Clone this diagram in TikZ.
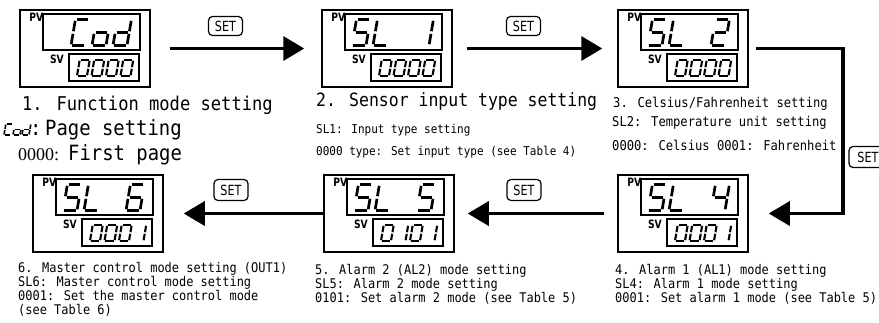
\documentclass[tikz,border=0pt]{standalone}
\usepackage{fontspec}
\newfontfamily\capfont[FakeStretch=0.9]{DejaVu Sans Mono}
\newfontfamily\labfont[FakeStretch=0.8]{DejaVu Sans}
\newfontfamily\serfont{Liberation Serif}
\usetikzlibrary{arrows.meta}
\newcommand\defdig[2]{\expandafter\def\csname dig#1\endcsname{#2}}
\defdig{0}{a,b,c,d,e,f}
\defdig{1}{b,c}
\defdig{2}{a,b,g,e,d}
\defdig{4}{f,g,b,c}
\defdig{5}{a,f,g,c,d}
\defdig{6}{a,f,g,e,d,c}
\defdig{S}{a,f,g,c,d}
\defdig{L}{f,e,d}
\defdig{C}{a,f,e,d}
\defdig{o}{g,c,d,e}
\defdig{d}{b,c,d,e,g}
\defdig{n}{n}
\newcommand\spt[2]{({\sgX+(#1)*\sgW+0.17*(#2)*\sgH},{\sgY-(#2)*\sgH})}
\def\sega{\spt{0.1}{1} -- \spt{0.92}{1}}
\def\segb{\spt{1}{0.95} -- \spt{1}{0.55}}
\def\segc{\spt{1}{0.45} -- \spt{1}{0.05}}
\def\segd{\spt{0.08}{0} -- \spt{0.9}{0}}
\def\sege{\spt{0}{0.45} -- \spt{0}{0.05}}
\def\segf{\spt{0}{0.95} -- \spt{0}{0.55}}
\def\segg{\spt{0.1}{0.5} -- \spt{0.9}{0.5}}
\def\segn{\spt{0}{0}}
\def\sgLW{2pt}
\newcommand\sdig[5]{%
  \def\sgX{#1}\def\sgY{#2}\def\sgW{#3}\def\sgH{#4}%
  \foreach \sgl in #5 {\expandafter\let\expandafter\cursg\csname seg\sgl\endcsname \draw[segline] \cursg;}%
}
\newcommand\display[5]{%
  \node[outerbox] (#1) at ({#2+65},{#3+38.5}) {};
  \node[innerbox, minimum width=97pt, minimum height=36pt] (#1pv) at ({#2+71.5},{#3+22}) {};
  \node[innerbox, minimum width=70pt, minimum height=27pt] (#1sv) at ({#2+84},{#3+57.5}) {};
  \node[pvlab, anchor=north east] (#1pvl) at ({#2+23.5},{#3+3}) {PV};
  \node[pvlab, anchor=north east] (#1svl) at ({#2+44},{#3+45}) {SV};
  \def\sgLW{2.7pt}%
  \foreach \dg [count=\i from 0] in {#4} {%
    \pgfmathsetmacro\cx{#2+30+21*\i}%
    \edef\curdig{\csname dig\dg\endcsname}%
    \sdig{\cx}{#3+35.5}{14}{26}{\curdig}}%
  \def\sgLW{2.1pt}%
  \foreach \dg [count=\i from 0] in {#5} {%
    \pgfmathsetmacro\cx{#2+57+14.5*\i}%
    \edef\curdig{\csname dig\dg\endcsname}%
    \sdig{\cx}{#3+66}{10}{16}{\curdig}}%
}
\begin{document}
\begin{tikzpicture}[x=1pt,y=-1pt,
  outerbox/.style={draw, line width=1.5pt, minimum width=130pt, minimum height=77pt, inner sep=0pt},
  innerbox/.style={draw, line width=1.2pt, inner sep=0pt},
  pvlab/.style={inner sep=0pt, font=\labfont\bfseries\fontsize{11.5}{11.5}\selectfont},
  segline/.style={line width=\sgLW},
  setbtn/.style={draw, rounded corners=4pt, line width=1.2pt, minimum width=34pt, minimum height=19pt, inner sep=0pt, font=\labfont\fontsize{14}{14}\selectfont},
  flow/.style={line width=3.5pt, -{Triangle[length=21pt,width=24pt]}},
  bigcap/.style={anchor=base west, inner sep=0pt, font=\capfont\fontsize{19}{19}\selectfont},
  bigcapb/.style={anchor=base west, inner sep=0pt, font=\capfont\fontsize{18.3}{18.3}\selectfont},
  bigcapc/.style={anchor=base west, inner sep=0pt, font=\capfont\fontsize{21}{21}\selectfont},
  sercap/.style={anchor=base west, inner sep=0pt, font=\serfont\fontsize{18}{18}\selectfont},
  smcapa/.style={anchor=base west, inner sep=0pt, font=\capfont\fontsize{12.2}{12.2}\selectfont},
  smcapb/.style={anchor=base west, inner sep=0pt, font=\capfont\fontsize{13.5}{13.5}\selectfont},
  smcapc/.style={anchor=base west, inner sep=0pt, font=\capfont\fontsize{13.3}{13.3}\selectfont}
]
\useasboundingbox[fill=white] (0,0) rectangle (879,322);

% displays
\display{d1}{20}{10}{n,C,o,d}{0,0,0,0}
\display{d2}{322}{10}{S,L,n,1}{0,0,0,0}
\display{d3}{618}{10}{S,L,n,2}{0,0,0,0}
\display{d4}{618}{175}{S,L,n,4}{0,0,0,1}
\display{d5}{324}{175}{S,L,n,5}{0,1,0,1}
\display{d6}{33}{175}{S,L,n,6}{0,0,0,1}

% connectors
\draw[flow, shorten <=19pt, shorten >=17pt] (d1.east) -- (d2.west);
\draw[flow, shorten <=14pt, shorten >=15pt] (d2.east) -- (d3.west);
\coordinate (turn1) at (843,48.5);
\draw[flow, line join=miter] ([xshift=7pt]d3.east) -- (turn1) |- ([xshift=20pt]d4.east);
\draw[flow, shorten <=13pt, shorten >=13pt] (d4.west) -- (d5.east);
\draw[flow, shorten >=20pt] (d5.west) -- (d6.east);

% SET buttons
\node[setbtn] (set1) at (225.5,26) {SET};
\node[setbtn] (set2) at (523.5,26) {SET};
\node[setbtn, minimum width=38pt, minimum height=21pt] (set3) at (868,157) {SET};
\node[setbtn, minimum height=21pt] (set4) at (524,190) {SET};
\node[setbtn, minimum height=21pt] (set5) at (231,190) {SET};

% captions box 1
\node[bigcap] (c1a) at (22,110) {1. Function mode setting};
\def\sgLW{1.6pt}
\sdig{4}{135}{7}{11}{\digC}
\sdig{13}{135}{7}{11}{\digo}
\sdig{22}{135}{7}{11}{\digd}
\node[bigcapc] (c1b) at (30,135) {:};
\node[bigcapc] (c1c) at (45,135) {Page setting};
\node[sercap] (c1d) at (18,160) {0000:};
\node[bigcapc] (c1e) at (68,160) {First page};

% captions box 2
\node[bigcapb] (c2a) at (316,106) {2. Sensor input type setting};
\node[smcapa] (c2b) at (316,133) {SL1: Input type setting};
\node[smcapa] (c2c) at (316,155) {0000 type: Set input type (see Table 4)};

% captions box 3
\node[smcapb] (c3a) at (613,107) {3. Celsius/Fahrenheit setting};
\node[smcapb] (c3b) at (612,126) {SL2: Temperature unit setting};
\node[smcapb] (c3c) at (612,150) {0000: Celsius 0001: Fahrenheit};

% captions box 4
\node[smcapc] (c4a) at (615,274) {4. Alarm 1 (AL1) mode setting};
\node[smcapc] (c4b) at (615,288) {SL4: Alarm 1 mode setting};
\node[smcapc] (c4c) at (615,302) {0001: Set alarm 1 mode (see Table 5)};

% captions box 5
\node[smcapc] (c5a) at (315,274) {5. Alarm 2 (AL2) mode setting};
\node[smcapc] (c5b) at (315,288) {SL5: Alarm 2 mode setting};
\node[smcapc] (c5c) at (315,302) {0101: Set alarm 2 mode (see Table 5)};

% captions box 6
\node[smcapc] (c6a) at (18,272) {6. Master control mode setting (OUT1)};
\node[smcapc] (c6b) at (18,286) {SL6: Master control mode setting};
\node[smcapc] (c6c) at (18,300) {0001: Set the master control mode};
\node[smcapc] (c6d) at (18,314) {(see Table 6)};
\end{tikzpicture}
\end{document}
